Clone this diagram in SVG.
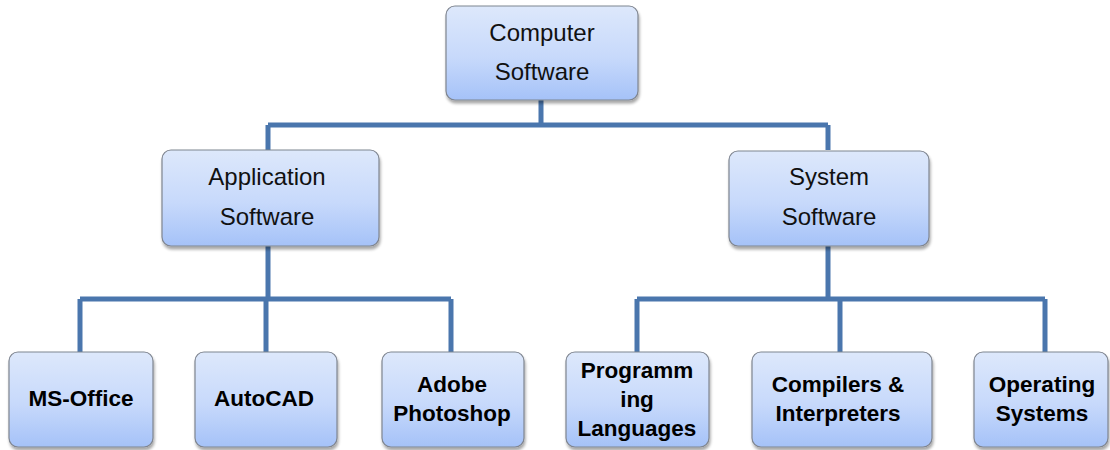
<svg xmlns="http://www.w3.org/2000/svg" width="1110" height="450" viewBox="0 0 1110 450">
<style>
.box{fill:url(#g);stroke:#7f8590;stroke-width:1.2;filter:url(#sh)}
.t{font-family:"Liberation Sans",Arial,sans-serif;font-size:24px;fill:#111;text-anchor:middle}
.b{font-family:"Liberation Sans",Arial,sans-serif;font-size:22.5px;font-weight:bold;fill:#000;text-anchor:middle}
.c{fill:none;stroke:#4a76ad;stroke-width:5;stroke-linejoin:miter}
</style>
<defs>
<linearGradient id="g" x1="0" y1="0" x2="0" y2="1">
<stop offset="0" stop-color="#dde8fb"/>
<stop offset="0.55" stop-color="#c7d9fb"/>
<stop offset="1" stop-color="#a5c2f8"/>
</linearGradient>
<filter id="sh" x="-10%" y="-10%" width="130%" height="130%">
<feGaussianBlur in="SourceAlpha" stdDeviation="1.5"/>
<feOffset dx="1" dy="2.5" result="o"/>
<feComponentTransfer><feFuncA type="linear" slope="0.35"/></feComponentTransfer>
<feMerge><feMergeNode/><feMergeNode in="SourceGraphic"/></feMerge>
</filter>
</defs>
<g id="connectors">
<path class="c" d="M541 100V125M268 125H828M268 125V150M828 125V150"/>
<path class="c" d="M268 246V299M80 299H451M80 299V352M266 299V352M451 299V352"/>
<path class="c" d="M828 246V299M637 299H1045M637 299V352M840 299V352M1045 299V352"/>
</g>
<g id="computer-software"><rect class="box" x="446" y="6" width="192" height="94" rx="9"/><text class="t" x="542" y="41">Computer</text><text class="t" x="542" y="80">Software</text></g>
<g id="application-software"><rect class="box" x="162" y="150" width="217" height="96" rx="9"/><text class="t" x="267" y="185">Application</text><text class="t" x="267" y="225">Software</text></g>
<g id="system-software"><rect class="box" x="729" y="151" width="200" height="95" rx="9"/><text class="t" x="829" y="185">System</text><text class="t" x="829" y="225">Software</text></g>
<g id="ms-office"><rect class="box" x="9" y="352" width="144" height="95" rx="9"/><text class="b" x="81" y="406">MS-Office</text></g>
<g id="autocad"><rect class="box" x="195" y="352" width="142" height="95" rx="9"/><text class="b" x="264" y="406">AutoCAD</text></g>
<g id="adobe-photoshop"><rect class="box" x="382" y="352" width="142" height="95" rx="9"/><text class="b" x="452" y="392">Adobe</text><text class="b" x="452" y="421">Photoshop</text></g>
<g id="programming-languages"><rect class="box" x="566" y="352" width="143" height="95" rx="9"/><text class="b" x="637" y="378">Programm</text><text class="b" x="637" y="407">ing</text><text class="b" x="637" y="436">Languages</text></g>
<g id="compilers-interpreters"><rect class="box" x="752" y="352" width="180" height="95" rx="9"/><text class="b" x="838" y="392">Compilers &amp;</text><text class="b" x="838" y="421">Interpreters</text></g>
<g id="operating-systems"><rect class="box" x="974" y="352" width="134" height="95" rx="9"/><text class="b" x="1042" y="392">Operating</text><text class="b" x="1042" y="421">Systems</text></g>
</svg>
